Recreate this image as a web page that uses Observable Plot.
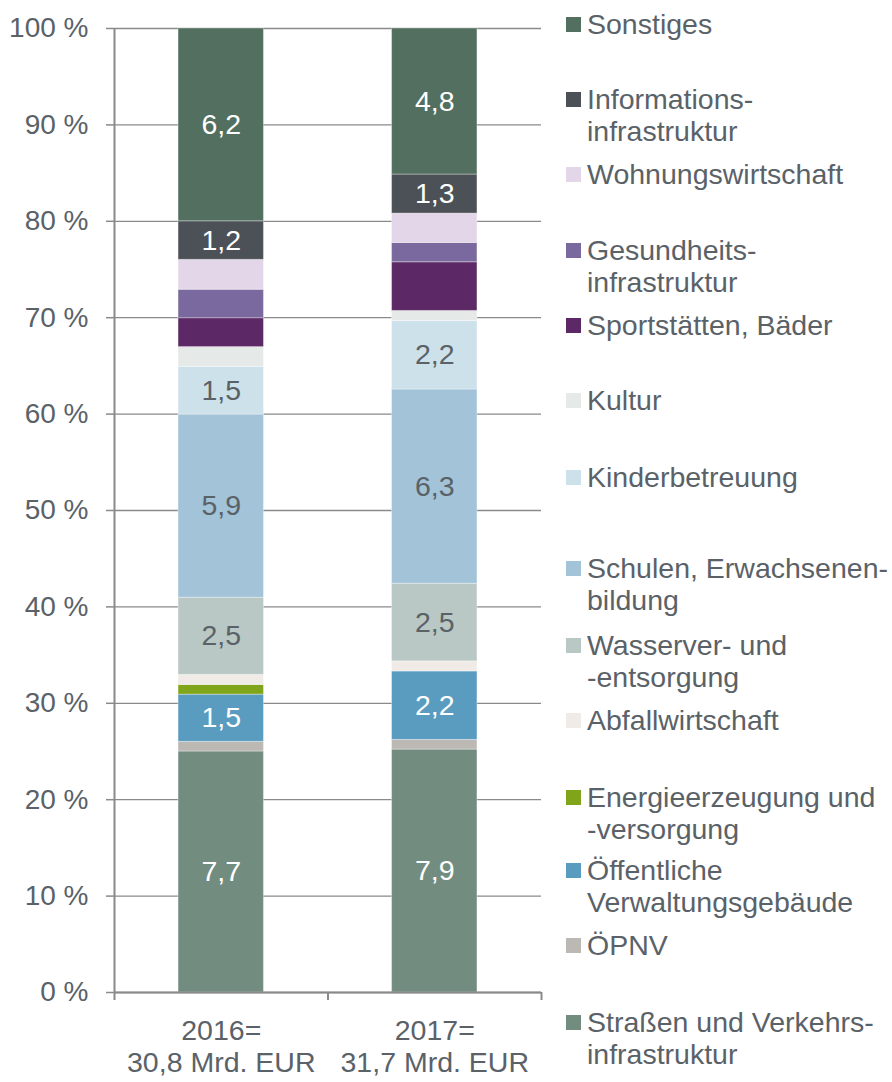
<!DOCTYPE html>
<html>
<head>
<meta charset="utf-8">
<script src="https://cdn.jsdelivr.net/npm/d3@7"></script>
<script src="https://cdn.jsdelivr.net/npm/@observablehq/plot@0.6"></script>
<style>
  html, body { margin: 0; padding: 0; background: #fff; }
  #wrap { position: relative; width: 892px; height: 1082px; overflow: hidden; font-family: "Liberation Sans", Arial, sans-serif; }
  #chart { position: absolute; left: 0; top: 0; }
  .lg { position: absolute; left: 566px; font-size: 28.5px; line-height: 32px; color: #5a6268; white-space: pre; }
  .lg .sw { position: absolute; left: 0; top: 9px; width: 15px; height: 15px; }
  .lg .tx { position: absolute; left: 21px; top: 0; }
</style>
</head>
<body>
<div id="wrap"><div id="chart"></div></div>
<script>
// ---- data (stack order: bottom -> top) ----
const years = ["2016", "2017"];
const yearLabels = ["2016=\n30,8 Mrd. EUR", "2017=\n31,7 Mrd. EUR"];
const categories = [
  "Straßen und Verkehrsinfrastruktur",
  "ÖPNV",
  "Öffentliche Verwaltungsgebäude",
  "Energieerzeugung und -versorgung",
  "Abfallwirtschaft",
  "Wasserver- und -entsorgung",
  "Schulen, Erwachsenenbildung",
  "Kinderbetreuung",
  "Kultur",
  "Sportstätten, Bäder",
  "Gesundheitsinfrastruktur",
  "Wohnungswirtschaft",
  "Informationsinfrastruktur",
  "Sonstiges"
];
const legendLabels = [
  "Straßen und Verkehrs-\ninfrastruktur",
  "ÖPNV",
  "Öffentliche\nVerwaltungsgebäude",
  "Energieerzeugung und\n-versorgung",
  "Abfallwirtschaft",
  "Wasserver- und\n-entsorgung",
  "Schulen, Erwachsenen-\nbildung",
  "Kinderbetreuung",
  "Kultur",
  "Sportstätten, Bäder",
  "Gesundheits-\ninfrastruktur",
  "Wohnungswirtschaft",
  "Informations-\ninfrastruktur",
  "Sonstiges"
];
// shares in percent of the yearly total
const shares2016 = [25.0, 1.0, 4.9, 1.0, 1.05, 8.0, 19.0, 4.95, 2.05, 3.0, 2.95, 3.1, 4.0, 20.0];
const shares2017 = [25.2, 1.0, 7.1, 0.0, 1.05, 8.05, 20.15, 7.1, 1.05, 5.05, 2.0, 3.05, 4.05, 15.15];
// printed values in Mrd. EUR
const values2016 = [7.7, null, 1.5, null, null, 2.5, 5.9, 1.5, null, null, null, null, 1.2, 6.2];
const values2017 = [7.9, null, 2.2, null, null, 2.5, 6.3, 2.2, null, null, null, null, 1.3, 4.8];
const yTicks = [0, 10, 20, 30, 40, 50, 60, 70, 80, 90, 100];

const colors = [
  "#738c80", "#bcb8b4", "#5a9bc0", "#80a51a", "#f0ebe7", "#b9c8c4", "#a2c3d8",
  "#cde1ea", "#e5e9e7", "#5c2865", "#79699e", "#e3d6e8", "#4b5156", "#526f60"
];
const darkCats = new Set([categories[0], categories[2], categories[12], categories[13]]);

const rows = [];
years.forEach((yr, yi) => {
  const sh = yi === 0 ? shares2016 : shares2017;
  const vl = yi === 0 ? values2016 : values2017;
  categories.forEach((c, ci) => rows.push({year: yr, category: c, share: sh[ci], value: vl[ci]}));
});
const fmt = v => v == null ? null : v.toFixed(1).replace(".", ",");

// ---- layout ----
const W = 892, H = 1082;
const mL = 114, mR = 351, mT = 28, mB = 90;
const step = (W - mL - mR) / years.length;
const axisColor = "#8a8a8a";
const textColor = "#5a6268";
const FONT = 28.5;

const stackOpts = {x: "year", y: "share", z: "category", order: categories};

const plot = Plot.plot({
  width: W, height: H,
  marginLeft: mL, marginRight: mR, marginTop: mT, marginBottom: mB,
  style: {fontFamily: '"Liberation Sans", Arial, sans-serif', fontSize: FONT + "px", background: "white", overflow: "visible"},
  x: {type: "band", domain: years, paddingInner: 0.6, paddingOuter: 0.3, round: false, axis: null},
  y: {domain: [0, 100], axis: null},
  color: {domain: categories, range: colors},
  marks: [
    Plot.gridY(yTicks, {stroke: axisColor, strokeOpacity: 1, strokeWidth: 1.3}),
    Plot.axisY({ticks: yTicks, tickFormat: d => d + " %", tickSize: 8, tickPadding: 18, label: null,
      stroke: axisColor, strokeWidth: 1.5, fill: textColor, fontSize: 28}),
    Plot.barY(rows, Plot.stackY({...stackOpts, fill: "category", filter: d => d.share > 0,
      stroke: "white", strokeOpacity: 0.35, strokeWidth: 1})),
    Plot.text(rows, Plot.stackY({...stackOpts,
      text: d => darkCats.has(d.category) ? fmt(d.value) : null, fill: "white", fontSize: FONT})),
    Plot.text(rows, Plot.stackY({...stackOpts,
      text: d => darkCats.has(d.category) ? null : fmt(d.value), fill: textColor, fontSize: FONT})),
    // x axis baseline and category-boundary ticks
    Plot.ruleY([0], {stroke: axisColor, strokeWidth: 2}),
    Plot.ruleX([years[0]], {y1: 100, y2: 0, dx: -step / 2, insetBottom: -8, stroke: axisColor, strokeWidth: 2}),
    Plot.ruleX(years, {y1: 0, y2: 0, dx: step / 2, insetBottom: -8, stroke: axisColor, strokeWidth: 2}),
    Plot.text(years, {x: d => d, y: 0, text: (d, i) => yearLabels[i], lineAnchor: "top", dy: 25,
      lineHeight: 1.11, fill: textColor, fontSize: FONT})
  ]
});
document.getElementById("chart").appendChild(plot);

// ---- legend (top -> bottom, reverse of stack order) ----
const legendTop = [8, 83, 158, 234, 309, 384, 461, 552, 629, 704, 781, 854, 929, 1006];
const wrap = document.getElementById("wrap");
categories.slice().reverse().forEach((c, i) => {
  const ci = categories.length - 1 - i;
  const item = document.createElement("div");
  item.className = "lg";
  item.style.top = legendTop[i] + "px";
  const sw = document.createElement("div");
  sw.className = "sw";
  sw.style.background = colors[ci];
  const tx = document.createElement("div");
  tx.className = "tx";
  tx.textContent = legendLabels[ci];
  item.appendChild(sw);
  item.appendChild(tx);
  wrap.appendChild(item);
});
</script>
</body>
</html>
